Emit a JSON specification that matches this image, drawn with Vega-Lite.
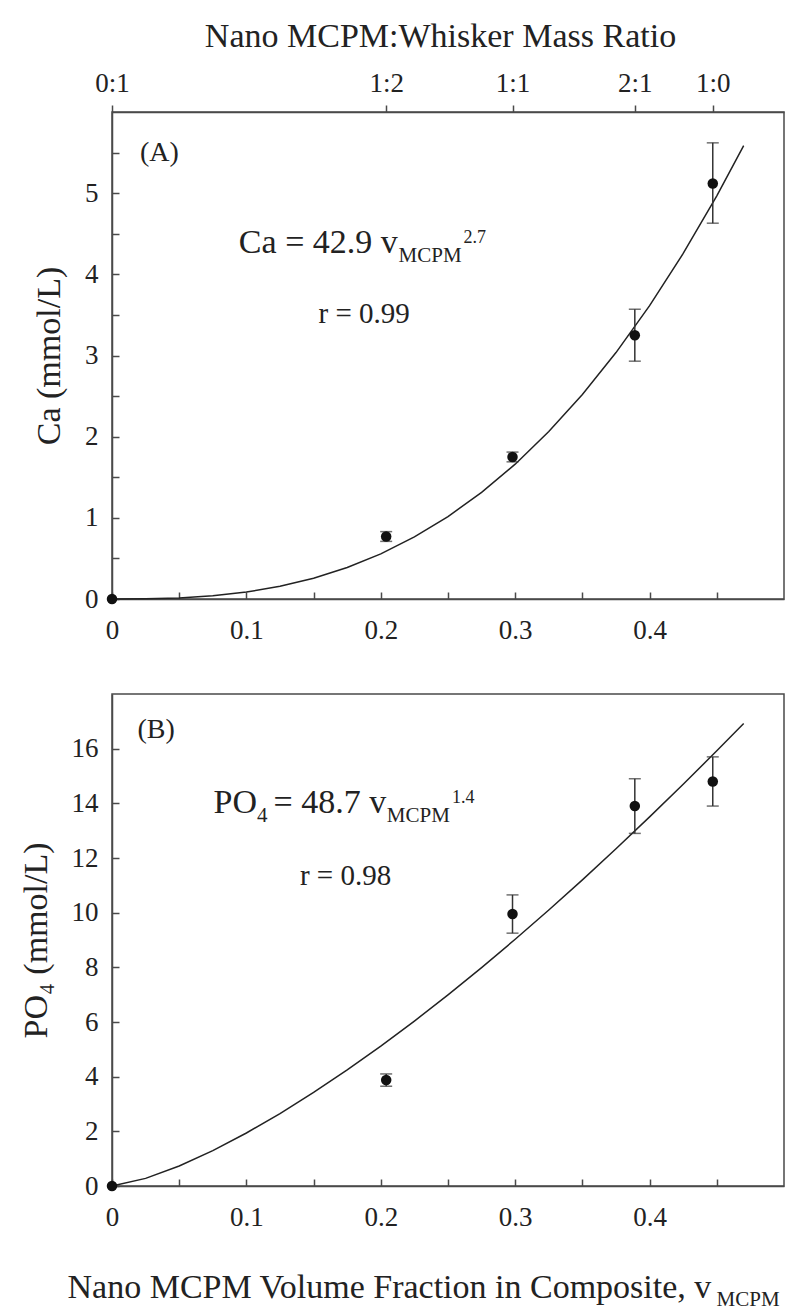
{
  "$schema": "https://vega.github.io/schema/vega-lite/v6.json",
  "background": "white",
  "padding": {"left": 18, "top": 18, "right": 10, "bottom": 5},
  "spacing": 95,
  "bounds": "flush",
  "config": {
    "font": "Liberation Serif",
    "view": {"stroke": "#4a4a4a", "strokeWidth": 1.5},
    "axis": {
      "grid": false, "labelFlush": false,
      "domainColor": "#4a4a4a", "domainWidth": 1.5,
      "tickColor": "#4a4a4a", "tickWidth": 1.5,
      "labelFont": "Liberation Serif", "labelFontSize": 27, "labelColor": "#222",
      "titleFont": "Liberation Serif", "titleFontSize": 34, "titleFontWeight": "normal", "titleColor": "#222"
    },
    "text": {"font": "Liberation Serif", "color": "#222", "align": "left", "baseline": "alphabetic"}
  },
  "datasets": {
    "fitA": [
      {"x": 0, "y": 0}, {"x": 0.025, "y": 0.002}, {"x": 0.05, "y": 0.013}, {"x": 0.075, "y": 0.039},
      {"x": 0.1, "y": 0.086}, {"x": 0.125, "y": 0.156}, {"x": 0.15, "y": 0.256}, {"x": 0.175, "y": 0.388},
      {"x": 0.2, "y": 0.556}, {"x": 0.225, "y": 0.765}, {"x": 0.25, "y": 1.016}, {"x": 0.275, "y": 1.314},
      {"x": 0.3, "y": 1.661}, {"x": 0.325, "y": 2.063}, {"x": 0.35, "y": 2.52}, {"x": 0.375, "y": 3.036},
      {"x": 0.4, "y": 3.614}, {"x": 0.425, "y": 4.257}, {"x": 0.45, "y": 4.967}, {"x": 0.47, "y": 5.585}
    ],
    "fitB": [
      {"x": 0, "y": 0}, {"x": 0.025, "y": 0.278}, {"x": 0.05, "y": 0.734}, {"x": 0.075, "y": 1.296},
      {"x": 0.1, "y": 1.939}, {"x": 0.125, "y": 2.65}, {"x": 0.15, "y": 3.421}, {"x": 0.175, "y": 4.245},
      {"x": 0.2, "y": 5.117}, {"x": 0.225, "y": 6.034}, {"x": 0.25, "y": 6.993}, {"x": 0.275, "y": 7.991},
      {"x": 0.3, "y": 9.027}, {"x": 0.325, "y": 10.097}, {"x": 0.35, "y": 11.201}, {"x": 0.375, "y": 12.337},
      {"x": 0.4, "y": 13.503}, {"x": 0.425, "y": 14.698}, {"x": 0.45, "y": 15.922}, {"x": 0.47, "y": 16.922}
    ],
    "ptsA": [
      {"x": 0, "y": 0}, {"x": 0.204, "y": 0.77}, {"x": 0.298, "y": 1.75}, {"x": 0.389, "y": 3.25}, {"x": 0.447, "y": 5.12}
    ],
    "errA": [
      {"x": 0.204, "lo": 0.71, "hi": 0.83}, {"x": 0.298, "lo": 1.69, "hi": 1.81},
      {"x": 0.389, "lo": 2.93, "hi": 3.57}, {"x": 0.447, "lo": 4.63, "hi": 5.62}
    ],
    "ptsB": [
      {"x": 0, "y": 0}, {"x": 0.204, "y": 3.88}, {"x": 0.298, "y": 9.95}, {"x": 0.389, "y": 13.9}, {"x": 0.447, "y": 14.8}
    ],
    "errB": [
      {"x": 0.204, "lo": 3.65, "hi": 4.1}, {"x": 0.298, "lo": 9.25, "hi": 10.65},
      {"x": 0.389, "lo": 12.9, "hi": 14.9}, {"x": 0.447, "lo": 13.9, "hi": 15.7}
    ],
    "textA": [
      {"role": "main", "x": 0.0944, "y": 4.265, "t": "Ca = 42.9 v"},
      {"role": "sub", "x": 0.2132, "y": 4.154, "t": "MCPM"},
      {"role": "sup", "x": 0.2615, "y": 4.384, "t": "2.7"},
      {"role": "r", "x": 0.1537, "y": 3.4, "t": "r = 0.99"},
      {"role": "tag", "x": 0.0208, "y": 5.5, "t": "(A)"}
    ],
    "textB": [
      {"role": "main", "x": 0.0755, "y": 13.64, "t": "PO"},
      {"role": "main", "x": 0.1202, "y": 13.64, "t": "= 48.7 v"},
      {"role": "sub", "x": 0.1078, "y": 13.33, "t": "4"},
      {"role": "sub", "x": 0.2045, "y": 13.3, "t": "MCPM"},
      {"role": "sup", "x": 0.253, "y": 14.0, "t": "1.4"},
      {"role": "r", "x": 0.1398, "y": 11.01, "t": "r = 0.98"},
      {"role": "tag", "x": 0.019, "y": 16.7, "t": "(B)"},
      {"role": "sub", "x": 0.4498, "y": -4.39, "t": "MCPM"}
    ]
  },
  "vconcat": [
    {
      "width": 672,
      "height": 487,
      "resolve": {"axis": {"x": "independent"}},
      "layer": [
        {
          "data": {"name": "fitA"},
          "mark": {"type": "line", "color": "#222", "strokeWidth": 1.5},
          "encoding": {
            "x": {"field": "x", "type": "quantitative", "scale": {"domain": [0, 0.5], "nice": false, "zero": false},
              "axis": {"orient": "bottom", "title": null, "values": [0, 0.05, 0.1, 0.15, 0.2, 0.25, 0.3, 0.35, 0.4, 0.45],
                "labelExpr": "abs(datum.value*10 - round(datum.value*10)) < 0.001 ? format(datum.value, '~g') : ''",
                "tickSize": -7, "labelPadding": 25}},
            "y": {"field": "y", "type": "quantitative", "title": "Ca (mmol/L)", "scale": {"domain": [0, 6], "nice": false},
              "axis": {"title": "Ca (mmol/L)", "values": [0, 0.5, 1, 1.5, 2, 2.5, 3, 3.5, 4, 4.5, 5, 5.5],
                "labelExpr": "datum.value % 1 == 0 ? format(datum.value, 'd') : ''",
                "tickSize": -7, "labelPadding": 21, "titlePadding": 18}}
          }
        },
        {
          "data": {"name": "errA"},
          "mark": {"type": "rule", "color": "#333", "strokeWidth": 1.5},
          "encoding": {
            "x": {"field": "x", "type": "quantitative",
              "axis": {"orient": "top", "title": "Nano MCPM:Whisker Mass Ratio", "titleX": 328, "values": [0, 0.204, 0.298, 0.389, 0.447],
                "labelExpr": "datum.value == 0 ? '0:1' : datum.value < 0.25 ? '1:2' : datum.value < 0.35 ? '1:1' : datum.value < 0.42 ? '2:1' : '1:0'",
                "tickSize": 7, "labelPadding": 8, "titlePadding": 16}},
            "y": {"field": "lo", "type": "quantitative", "title": "Ca (mmol/L)"},
            "y2": {"field": "hi"}
          }
        },
        {
          "data": {"name": "errA"},
          "mark": {"type": "tick", "orient": "horizontal", "color": "#333", "thickness": 1.5, "size": 12},
          "encoding": {
            "x": {"field": "x", "type": "quantitative", "axis": null},
            "y": {"field": "lo", "type": "quantitative", "title": "Ca (mmol/L)"}
          }
        },
        {
          "data": {"name": "errA"},
          "mark": {"type": "tick", "orient": "horizontal", "color": "#333", "thickness": 1.5, "size": 12},
          "encoding": {
            "x": {"field": "x", "type": "quantitative", "axis": null},
            "y": {"field": "hi", "type": "quantitative", "title": "Ca (mmol/L)"}
          }
        },
        {
          "data": {"name": "ptsA"},
          "mark": {"type": "circle", "color": "#111", "opacity": 1, "size": 110},
          "encoding": {
            "x": {"field": "x", "type": "quantitative", "axis": null},
            "y": {"field": "y", "type": "quantitative", "title": "Ca (mmol/L)"}
          }
        },
        {
          "data": {"name": "textA"},
          "transform": [{"filter": "datum.role == 'main'"}],
          "mark": {"type": "text", "fontSize": 34},
          "encoding": {
            "x": {"field": "x", "type": "quantitative", "axis": null},
            "y": {"field": "y", "type": "quantitative", "title": "Ca (mmol/L)"},
            "text": {"field": "t"}
          }
        },
        {
          "data": {"name": "textA"},
          "transform": [{"filter": "datum.role == 'sub'"}],
          "mark": {"type": "text", "fontSize": 21},
          "encoding": {
            "x": {"field": "x", "type": "quantitative", "axis": null},
            "y": {"field": "y", "type": "quantitative", "title": "Ca (mmol/L)"},
            "text": {"field": "t"}
          }
        },
        {
          "data": {"name": "textA"},
          "transform": [{"filter": "datum.role == 'sup'"}],
          "mark": {"type": "text", "fontSize": 18},
          "encoding": {
            "x": {"field": "x", "type": "quantitative", "axis": null},
            "y": {"field": "y", "type": "quantitative", "title": "Ca (mmol/L)"},
            "text": {"field": "t"}
          }
        },
        {
          "data": {"name": "textA"},
          "transform": [{"filter": "datum.role == 'r'"}],
          "mark": {"type": "text", "fontSize": 29},
          "encoding": {
            "x": {"field": "x", "type": "quantitative", "axis": null},
            "y": {"field": "y", "type": "quantitative", "title": "Ca (mmol/L)"},
            "text": {"field": "t"}
          }
        },
        {
          "data": {"name": "textA"},
          "transform": [{"filter": "datum.role == 'tag'"}],
          "mark": {"type": "text", "fontSize": 28, "baseline": "middle"},
          "encoding": {
            "x": {"field": "x", "type": "quantitative", "axis": null},
            "y": {"field": "y", "type": "quantitative", "title": "Ca (mmol/L)"},
            "text": {"field": "t"}
          }
        }
      ]
    },
    {
      "width": 672,
      "height": 492,
      "layer": [
        {
          "data": {"name": "fitB"},
          "mark": {"type": "line", "color": "#222", "strokeWidth": 1.5},
          "encoding": {
            "x": {"field": "x", "type": "quantitative", "title": "Nano MCPM Volume Fraction in Composite, v", "scale": {"domain": [0, 0.5], "nice": false, "zero": false},
              "axis": {"orient": "bottom", "title": "Nano MCPM Volume Fraction in Composite, v",
                "titleAnchor": "start", "titleAlign": "left", "titleX": -45, "titleY": 111, "titleBaseline": "alphabetic",
                "values": [0, 0.05, 0.1, 0.15, 0.2, 0.25, 0.3, 0.35, 0.4, 0.45],
                "labelExpr": "abs(datum.value*10 - round(datum.value*10)) < 0.001 ? format(datum.value, '~g') : ''",
                "tickSize": -7, "labelPadding": 25}},
            "y": {"field": "y", "type": "quantitative", "title": "PO₄ (mmol/L)", "scale": {"domain": [0, 18], "nice": false},
              "axis": {"title": "PO₄ (mmol/L)", "values": [0, 2, 4, 6, 8, 10, 12, 14, 16],
                "tickSize": -7, "labelPadding": 21, "titlePadding": 18}}
          }
        },
        {
          "data": {"name": "errB"},
          "mark": {"type": "rule", "color": "#333", "strokeWidth": 1.5},
          "encoding": {
            "x": {"field": "x", "type": "quantitative", "title": "Nano MCPM Volume Fraction in Composite, v"},
            "y": {"field": "lo", "type": "quantitative", "title": "PO₄ (mmol/L)"},
            "y2": {"field": "hi"}
          }
        },
        {
          "data": {"name": "errB"},
          "mark": {"type": "tick", "orient": "horizontal", "color": "#333", "thickness": 1.5, "size": 12},
          "encoding": {
            "x": {"field": "x", "type": "quantitative", "title": "Nano MCPM Volume Fraction in Composite, v"},
            "y": {"field": "lo", "type": "quantitative", "title": "PO₄ (mmol/L)"}
          }
        },
        {
          "data": {"name": "errB"},
          "mark": {"type": "tick", "orient": "horizontal", "color": "#333", "thickness": 1.5, "size": 12},
          "encoding": {
            "x": {"field": "x", "type": "quantitative", "title": "Nano MCPM Volume Fraction in Composite, v"},
            "y": {"field": "hi", "type": "quantitative", "title": "PO₄ (mmol/L)"}
          }
        },
        {
          "data": {"name": "ptsB"},
          "mark": {"type": "circle", "color": "#111", "opacity": 1, "size": 110},
          "encoding": {
            "x": {"field": "x", "type": "quantitative", "title": "Nano MCPM Volume Fraction in Composite, v"},
            "y": {"field": "y", "type": "quantitative", "title": "PO₄ (mmol/L)"}
          }
        },
        {
          "data": {"name": "textB"},
          "transform": [{"filter": "datum.role == 'main'"}],
          "mark": {"type": "text", "fontSize": 34},
          "encoding": {
            "x": {"field": "x", "type": "quantitative", "title": "Nano MCPM Volume Fraction in Composite, v"},
            "y": {"field": "y", "type": "quantitative", "title": "PO₄ (mmol/L)"},
            "text": {"field": "t"}
          }
        },
        {
          "data": {"name": "textB"},
          "transform": [{"filter": "datum.role == 'sub'"}],
          "mark": {"type": "text", "fontSize": 21},
          "encoding": {
            "x": {"field": "x", "type": "quantitative", "title": "Nano MCPM Volume Fraction in Composite, v"},
            "y": {"field": "y", "type": "quantitative", "title": "PO₄ (mmol/L)"},
            "text": {"field": "t"}
          }
        },
        {
          "data": {"name": "textB"},
          "transform": [{"filter": "datum.role == 'sup'"}],
          "mark": {"type": "text", "fontSize": 18},
          "encoding": {
            "x": {"field": "x", "type": "quantitative", "title": "Nano MCPM Volume Fraction in Composite, v"},
            "y": {"field": "y", "type": "quantitative", "title": "PO₄ (mmol/L)"},
            "text": {"field": "t"}
          }
        },
        {
          "data": {"name": "textB"},
          "transform": [{"filter": "datum.role == 'r'"}],
          "mark": {"type": "text", "fontSize": 29},
          "encoding": {
            "x": {"field": "x", "type": "quantitative", "title": "Nano MCPM Volume Fraction in Composite, v"},
            "y": {"field": "y", "type": "quantitative", "title": "PO₄ (mmol/L)"},
            "text": {"field": "t"}
          }
        },
        {
          "data": {"name": "textB"},
          "transform": [{"filter": "datum.role == 'tag'"}],
          "mark": {"type": "text", "fontSize": 28, "baseline": "middle"},
          "encoding": {
            "x": {"field": "x", "type": "quantitative", "title": "Nano MCPM Volume Fraction in Composite, v"},
            "y": {"field": "y", "type": "quantitative", "title": "PO₄ (mmol/L)"},
            "text": {"field": "t"}
          }
        }
      ]
    }
  ]
}
